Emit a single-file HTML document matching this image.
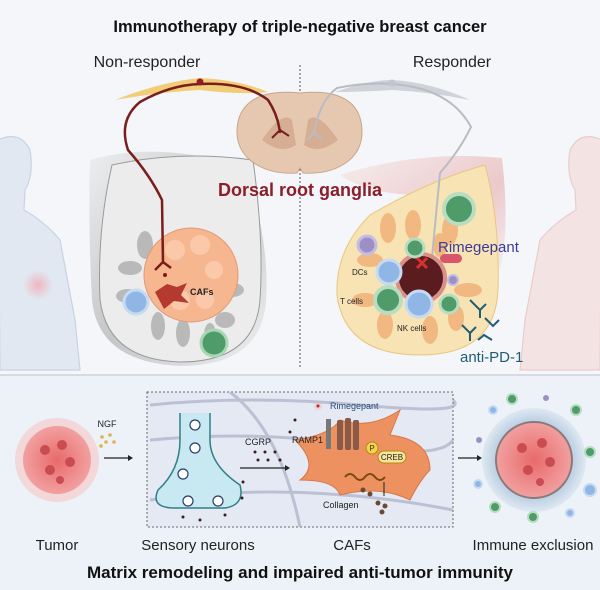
<!DOCTYPE html>
<html><head><meta charset="utf-8"><style>
html,body{margin:0;padding:0;background:#f3f5f8}
svg{display:block}
text{font-family:"Liberation Sans",sans-serif}
</style></head><body>
<svg width="600" height="590" viewBox="0 0 600 590" xmlns="http://www.w3.org/2000/svg">
<defs>
<radialGradient id="pinkglow"><stop offset="0" stop-color="#f4a9b4" stop-opacity=".8"/><stop offset="1" stop-color="#f4a9b4" stop-opacity="0"/></radialGradient>
<radialGradient id="halo"><stop offset=".6" stop-color="#a9c2dc"/><stop offset="1" stop-color="#dfe8f1"/></radialGradient>
<radialGradient id="tum"><stop offset="0" stop-color="#e86a6a"/><stop offset="1" stop-color="#f2a0a0"/></radialGradient>
<linearGradient id="shade" x1="0" y1="0" x2="1" y2="1"><stop offset="0" stop-color="#e4e4e4"/><stop offset=".5" stop-color="#8a8a8a"/><stop offset="1" stop-color="#e8e8e8"/></linearGradient>
<linearGradient id="pshade" x1="0" y1="0" x2="1" y2="1"><stop offset="0" stop-color="#f6e6e6"/><stop offset=".6" stop-color="#e6a4a4"/><stop offset="1" stop-color="#f3e8e8"/></linearGradient>
</defs>
<rect width="600" height="376" fill="#f4f6f9"/>
<rect y="376" width="600" height="214" fill="#edf2f8"/>
<line x1="0" y1="375" x2="600" y2="375" stroke="#d6dbe2" stroke-width="2"/>
<!-- silhouettes -->
<g fill="#e1e8f1" stroke="#c8d3e2" stroke-width="1.2">
<path d="M-2 140 Q20 130 30 150 Q34 175 25 190 L24 210 Q45 222 60 240 L75 320 L80 370 L0 370z"/>
</g>
<circle cx="38" cy="285" r="15" fill="url(#pinkglow)"/>
<g fill="#f3e3e3" stroke="#e9cccc" stroke-width="1.2">
<path d="M602 140 Q580 130 570 150 Q566 175 575 190 L576 210 Q555 222 540 240 L525 320 L520 370 L600 370z"/>
</g>
<!-- titles -->
<text x="300" y="32" text-anchor="middle" font-size="16.5" font-weight="bold" fill="#111">Immunotherapy of triple-negative breast cancer</text>
<text x="147" y="67" text-anchor="middle" font-size="16" fill="#222">Non-responder</text>
<text x="452" y="67" text-anchor="middle" font-size="16" fill="#222">Responder</text>
<line x1="300" y1="65" x2="300" y2="368" stroke="#555" stroke-width="1" stroke-dasharray="2,2"/>
<!-- left breast background shade -->
<path d="M90 160 Q160 140 245 168 Q270 240 266 300 Q262 366 180 366 Q98 362 92 300 Q88 230 90 160z" fill="url(#shade)" opacity=".45"/>
<path d="M112 165 Q180 150 253 160 Q264 240 260 300 Q255 362 180 362 Q108 360 100 300 Q97 230 112 165z" fill="#ececec" stroke="#9a9a9a"/>
<g fill="#b9b9b9">
<ellipse cx="145" cy="245" rx="8" ry="14"/><ellipse cx="130" cy="268" rx="12" ry="7"/><ellipse cx="128" cy="296" rx="12" ry="7"/>
<ellipse cx="158" cy="326" rx="7" ry="14"/><ellipse cx="183" cy="333" rx="7" ry="14"/><ellipse cx="225" cy="320" rx="10" ry="8"/><ellipse cx="232" cy="290" rx="12" ry="7"/><ellipse cx="210" cy="335" rx="6" ry="12"/>
</g>
<circle cx="191" cy="275" r="47" fill="#f6b690" stroke="#e19a74"/>
<g fill="#fbc9aa"><circle cx="175" cy="250" r="10"/><circle cx="200" cy="245" r="10"/><circle cx="214" cy="270" r="9"/><circle cx="180" cy="300" r="10"/><circle cx="205" cy="300" r="9"/></g>
<path d="M155 292 l12 -8 l10 3 l10 -4 l-6 12 l8 8 l-15 -2 l-10 8z" fill="#b43a30"/>
<text x="190" y="295" font-size="9" font-weight="bold" fill="#222">CAFs</text>
<circle cx="136" cy="302" r="12" fill="#8fb6e4" stroke="#c6dbf2" stroke-width="3"/>
<circle cx="214" cy="343" r="13" fill="#4f9c6a" stroke="#a9d7b4" stroke-width="3"/>
<!-- right breast -->
<path d="M340 175 Q420 150 502 158 Q510 230 500 270 Q480 200 420 195 Q370 195 340 175z" fill="url(#pshade)" opacity=".55"/>
<path d="M485 165 Q500 220 498 290 Q495 355 420 355 Q345 355 337 295 Q335 250 370 215 Q430 180 485 165z" fill="#f8e3b4" stroke="#e8c680"/>
<g fill="#f2b882">
<ellipse cx="388" cy="228" rx="8" ry="15"/><ellipse cx="413" cy="225" rx="8" ry="15"/><ellipse cx="450" cy="230" rx="8" ry="15"/>
<ellipse cx="370" cy="260" rx="13" ry="7"/><ellipse cx="468" cy="290" rx="14" ry="7"/><ellipse cx="365" cy="300" rx="13" ry="7"/>
<ellipse cx="385" cy="325" rx="8" ry="14"/><ellipse cx="430" cy="330" rx="8" ry="14"/><ellipse cx="456" cy="318" rx="8" ry="13"/><ellipse cx="440" cy="245" rx="7" ry="12"/>
</g>
<!-- spinal cord -->
<path d="M300 93 C250 88 237 110 237 132 C237 160 265 175 297 173 L300 168 L303 173 C335 175 362 160 362 132 C362 110 350 88 300 93z" fill="#e6c8b0" stroke="#c9a58a"/>
<path d="M262 140 q20 -30 30 -20 l4 25 q-15 10 -34 -5z M338 140 q-20 -30 -30 -20 l-4 25 q15 10 34 -5z" fill="#d6ae93"/>
<!-- left nerve -->
<path d="M115 100 Q160 82 200 78 Q240 80 268 92 Q240 95 200 90 Q160 92 115 100z" fill="#f1c96a" opacity=".9"/>
<path d="M163 262 L162 200 Q150 175 128 150 Q118 120 140 102 Q170 85 200 84 Q245 82 268 100 Q278 115 280 133" fill="none" stroke="#7a1d1d" stroke-width="2.5"/>
<path d="M280 130 l-8 8 M280 130 l9 6" stroke="#7a1d1d" stroke-width="2"/>
<path d="M163 262 l-8 8 M163 262 l8 6" stroke="#7a1d1d" stroke-width="2.5"/>
<circle cx="165" cy="275" r="2" fill="#7a1d1d"/>
<circle cx="200" cy="82" r="3.5" fill="#8e1c22"/>
<!-- right nerve -->
<path d="M335 92 Q370 80 392 80 Q430 82 470 100 Q430 92 392 90 Q360 92 335 92z" fill="#cfd2d8"/>
<path d="M314 133 Q320 100 337 88 Q365 82 392 84 Q450 88 471 127 Q460 150 440 173 L432 257" fill="none" stroke="#b9bcc2" stroke-width="2"/>
<path d="M314 133 l-8 8 M314 133 l8 6" stroke="#b9bcc2" stroke-width="2"/>
<circle cx="392" cy="83" r="3.5" fill="#c3c6cb"/>
<text x="300" y="196" text-anchor="middle" font-size="18" font-weight="bold" fill="#8a1f2a">Dorsal root ganglia</text>
<!-- right tumor/cells -->
<circle cx="421" cy="278" r="24" fill="#5a1c1f" stroke="#d98f8a" stroke-width="4"/>
<circle cx="459" cy="209" r="15" fill="#4f9c6a" stroke="#b8ddc0" stroke-width="4"/>
<circle cx="415" cy="248" r="9" fill="#4f9c6a" stroke="#b8ddc0" stroke-width="3"/>
<circle cx="389" cy="272" r="12" fill="#8fb6e4" stroke="#c6dbf2" stroke-width="3"/>
<circle cx="388" cy="300" r="13" fill="#4f9c6a" stroke="#b8ddc0" stroke-width="4"/>
<circle cx="419" cy="304" r="13" fill="#8fb6e4" stroke="#c6dbf2" stroke-width="3"/>
<circle cx="449" cy="304" r="9" fill="#4f9c6a" stroke="#b8ddc0" stroke-width="3"/>
<circle cx="367" cy="245" r="9" fill="#9b8fc6" stroke="#c4bde3" stroke-width="3"/>
<circle cx="453" cy="280" r="5" fill="#9b8fc6" stroke="#c4bde3" stroke-width="2"/>
<rect x="440" y="254" width="22" height="9" rx="4.5" fill="#d9566b"/>
<path d="M417 258 l10 10 M427 258 l-10 10" stroke="#d73030" stroke-width="3"/>
<text x="438" y="252" font-size="15" fill="#3d3b9a">Rimegepant</text>
<text x="352" y="275" font-size="8" fill="#222">DCs</text>
<text x="340" y="304" font-size="8" fill="#222">T cells</text>
<text x="397" y="331" font-size="8" fill="#222">NK cells</text>
<g stroke="#1f5d74" stroke-width="2" fill="none">
<path d="M470 300 l10 10 l0 8 M480 310 l6 -6"/><path d="M485 318 l8 8 l6 -6"/><path d="M462 325 l8 8 l0 8 M470 333 l6 -6"/><path d="M478 340 l6 -5 l8 5"/>
</g>
<text x="460" y="362" font-size="15" fill="#1f5d74">anti-PD-1</text>
<!-- bottom -->
<circle cx="57" cy="460" r="42" fill="#f6c6c6" opacity=".6"/>
<circle cx="57" cy="460" r="34" fill="url(#tum)"/>
<g fill="#c94c50"><circle cx="45" cy="450" r="5"/><circle cx="62" cy="445" r="5"/><circle cx="70" cy="462" r="5"/><circle cx="50" cy="470" r="5"/><circle cx="60" cy="480" r="4"/></g>
<text x="107" y="427" text-anchor="middle" font-size="9" fill="#222">NGF</text>
<g fill="#e0b14e"><circle cx="102" cy="437" r="1.8"/><circle cx="110" cy="435" r="1.8"/><circle cx="106" cy="442" r="1.8"/><circle cx="114" cy="442" r="1.8"/><circle cx="101" cy="446" r="1.8"/></g>
<path d="M104 458 h26" stroke="#222" stroke-width="1.2"/><path d="M133 458 l-5 -3 v6z" fill="#222"/>
<rect x="147" y="392" width="306" height="135" fill="#e4e9f4" stroke="#666" stroke-dasharray="2,2"/>
<g stroke="#b2b7cc" stroke-width="3" fill="none" opacity=".8">
<path d="M150 405 Q250 395 360 405 T453 400"/><path d="M150 440 Q260 430 350 445 T453 440"/><path d="M150 500 Q300 480 453 510"/><path d="M230 392 Q280 430 300 527"/>
</g>
<path d="M180 413 L180 440 Q180 470 158 490 Q150 508 175 508 L225 508 Q245 505 240 485 Q210 465 210 440 L210 413" fill="#c8e8f2" stroke="#2f7f83" stroke-width="1.5"/>
<g fill="#fff" stroke="#2b3d6a" stroke-width="1.2"><circle cx="195" cy="425" r="5"/><circle cx="195" cy="448" r="5"/><circle cx="183" cy="474" r="5"/><circle cx="188" cy="501" r="5"/><circle cx="218" cy="501" r="5"/></g>
<text x="245" y="445" font-size="9" fill="#222">CGRP</text>
<g fill="#3a1c22"><circle cx="255" cy="452" r="1.5"/><circle cx="265" cy="452" r="1.5"/><circle cx="275" cy="452" r="1.5"/><circle cx="258" cy="460" r="1.5"/><circle cx="268" cy="460" r="1.5"/><circle cx="280" cy="460" r="1.5"/><circle cx="290" cy="432" r="1.5"/><circle cx="295" cy="420" r="1.5"/><circle cx="183" cy="517" r="1.5"/><circle cx="200" cy="520" r="1.5"/><circle cx="225" cy="515" r="1.5"/><circle cx="242" cy="498" r="1.5"/><circle cx="243" cy="482" r="1.5"/></g>
<path d="M240 468 h46" stroke="#222" stroke-width="1.2"/><path d="M290 468 l-5 -3 v6z" fill="#222"/>
<path d="M295 440 Q330 435 340 420 Q370 430 400 410 L390 435 Q430 440 430 470 Q420 480 410 500 Q380 485 340 495 Q335 480 300 480 Q320 465 295 440z" fill="#ee9160" stroke="#d8784a"/>
<circle cx="318" cy="406" r="5" fill="url(#pinkglow)"/><circle cx="318" cy="406" r="1.5" fill="#c22"/>
<text x="330" y="409" font-size="9" fill="#2a4b7a">Rimegepant</text>
<text x="292" y="443" font-size="9" fill="#222">RAMP1</text>
<rect x="326" y="419" width="5" height="30" fill="#777"/>
<g fill="#8a5a48"><rect x="337" y="420" width="6" height="30" rx="2"/><rect x="345" y="418" width="6" height="32" rx="2"/><rect x="353" y="420" width="6" height="30" rx="2"/></g>
<circle cx="372" cy="448" r="6" fill="#f7d34a" stroke="#b08a12"/><text x="372" y="451" text-anchor="middle" font-size="8" fill="#333">P</text>
<rect x="378" y="451" width="28" height="12" rx="6" fill="#f8e49a" stroke="#b08a12"/><text x="392" y="460" text-anchor="middle" font-size="8" fill="#222">CREB</text>
<path d="M345 477 q5 -6 10 0 t10 0 t10 0 t10 0" stroke="#7a4a10" stroke-width="2" fill="none"/>
<path d="M384 482 v14" stroke="#222"/>
<g fill="#6b4a32"><circle cx="363" cy="490" r="2.5"/><circle cx="370" cy="494" r="2.5"/><circle cx="378" cy="503" r="2.5"/><circle cx="385" cy="506" r="2.5"/><circle cx="382" cy="512" r="2.5"/></g>
<text x="323" y="508" font-size="9" fill="#222">Collagen</text>
<path d="M458 458 h20" stroke="#222" stroke-width="1.2"/><path d="M482 458 l-5 -3 v6z" fill="#222"/>
<circle cx="534" cy="460" r="52" fill="url(#halo)"/>
<circle cx="534" cy="460" r="38" fill="url(#tum)" stroke="#8c7a7a" stroke-width="2"/>
<g fill="#c94c50"><circle cx="522" cy="448" r="5"/><circle cx="542" cy="443" r="5"/><circle cx="550" cy="462" r="5"/><circle cx="528" cy="470" r="5"/><circle cx="540" cy="482" r="4"/></g>
<g fill="#4f9c6a" stroke="#b8ddc0" stroke-width="2"><circle cx="512" cy="399" r="5"/><circle cx="576" cy="410" r="5"/><circle cx="590" cy="452" r="5"/><circle cx="495" cy="507" r="5"/><circle cx="533" cy="517" r="5"/></g>
<g fill="#8fb6e4" stroke="#c6dbf2" stroke-width="2"><circle cx="493" cy="410" r="4"/><circle cx="478" cy="484" r="4"/><circle cx="590" cy="490" r="6"/><circle cx="570" cy="513" r="4"/></g>
<g fill="#9b8fc6"><circle cx="546" cy="398" r="3"/><circle cx="479" cy="440" r="3"/></g>
<g font-size="15" fill="#222" text-anchor="middle">
<text x="57" y="550">Tumor</text><text x="198" y="550">Sensory neurons</text><text x="352" y="550">CAFs</text><text x="533" y="550">Immune exclusion</text>
</g>
<text x="300" y="578" text-anchor="middle" font-size="17" font-weight="bold" fill="#111">Matrix remodeling and impaired anti-tumor immunity</text>
</svg>
</body></html>
